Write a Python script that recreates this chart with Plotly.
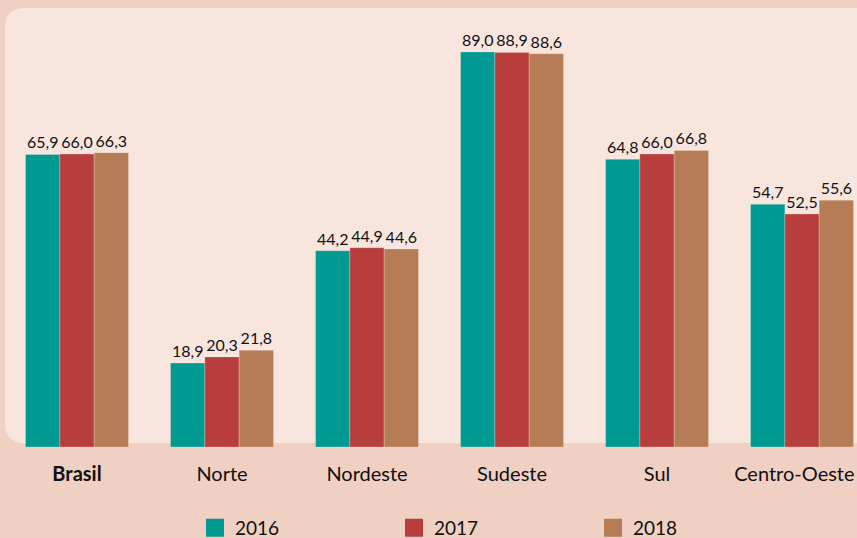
import plotly.graph_objects as go

categories = ["Brasil", "Norte", "Nordeste", "Sudeste", "Sul", "Centro-Oeste"]
tick_labels = ["<b>Brasil</b>", "Norte", "Nordeste", "Sudeste", "Sul",
               "Centro-Oeste&#160;&#160;&#160;"]
years = ["2016", "2017", "2018"]
v2016 = [65.9, 18.9, 44.2, 89.0, 64.8, 54.7]
v2017 = [66.0, 20.3, 44.9, 88.9, 66.0, 52.5]
v2018 = [66.3, 21.8, 44.6, 88.6, 66.8, 55.6]
colors = ["#009A92", "#B83E3E", "#B57C56"]

FONT = "Lato"
fig = go.Figure()
for name, vals, col in zip(years, [v2016, v2017, v2018], colors):
    fig.add_trace(go.Bar(
        x=categories, y=vals, name=name, showlegend=False,
        marker=dict(color=col, line=dict(color="rgba(255,235,225,0.45)", width=0.6)),
        texttemplate="%{y:.1f}", textposition="outside",
        textfont=dict(family=FONT, size=16, color="#111111"),
        cliponaxis=False,
    ))
# legend entries (square swatches)
for name, col in zip(years, colors):
    fig.add_trace(go.Scatter(
        x=[None], y=[None], name=name, mode="markers",
        marker=dict(symbol="square", size=16, color=col, line=dict(color=col, width=2)),
    ))

W, H = 857, 538
t, b = 8, 91
ph = H - t - b
x0 = 5 / W
x1 = 1.05
y1 = 1.0
y0 = 4 / ph
rx = 20 / W
ry = 20 / ph
path = (f"M {x0},{y0+ry} L {x0},{y1-ry} Q {x0},{y1} {x0+rx},{y1} "
        f"L {x1},{y1} L {x1},{y0} L {x0+rx},{y0} Q {x0},{y0} {x0},{y0+ry} Z")

fig.update_layout(
    width=W, height=H,
    margin=dict(l=0, r=0, t=t, b=b, autoexpand=False),
    paper_bgcolor="#EFD0C2",
    plot_bgcolor="rgba(0,0,0,0)",
    separators=",.",
    barmode="group", bargap=0.29, bargroupgap=0,
    font=dict(family=FONT, color="#111111"),
    shapes=[dict(type="path", path=path, xref="paper", yref="paper",
                 fillcolor="#F8E6DE", line=dict(width=0), layer="below")],
    xaxis=dict(range=[-0.531, 5.379], tickmode="array", tickvals=categories,
               ticktext=tick_labels, showgrid=False, zeroline=False, showline=False,
               ticks="", ticklabelstandoff=13, automargin=False,
               tickfont=dict(family=FONT, size=20, color="#111111")),
    yaxis=dict(range=[0, 98.9], visible=False, showgrid=False, automargin=False),
    legend=dict(orientation="h", xref="container", yref="container",
                x=195 / W, xanchor="left", y=1 - 528 / H, yanchor="middle",
                entrywidth=154, entrywidthmode="pixels",
                font=dict(family=FONT, size=19, color="#111111"),
                bgcolor="rgba(0,0,0,0)"),
)
fig.write_html("out.html", config={"displayModeBar": False})
with open("out.html", encoding="utf-8") as f:
    html = f.read()
html = html.replace("<body>", '<body style="margin:0;overflow:hidden">', 1)
with open("out.html", "w", encoding="utf-8") as f:
    f.write(html)
